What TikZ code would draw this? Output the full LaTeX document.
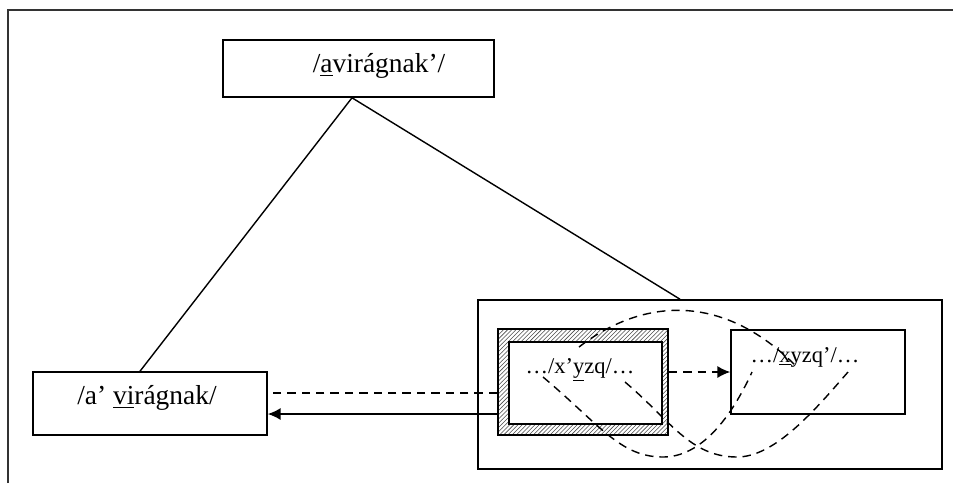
\documentclass[tikz,border=0pt]{standalone}
\usepackage{fontspec}
\setmainfont{Liberation Serif}
\usetikzlibrary{arrows.meta,patterns}

\begin{document}
\begin{tikzpicture}[x=0.025cm,y=-0.025cm]
		\tikzstyle{boite} = [draw,line width=1.1pt,inner sep=0pt]
		\tikzstyle{mot} = [inner sep=0pt,font=\fontsize{19.5}{22}\selectfont]
		\tikzstyle{petit} = [inner sep=0pt,font=\fontsize{16}{19}\selectfont]
		\tikzstyle{fleche} = [-{Latex[length=3.2mm,width=3mm]},line width=1pt]
		\tikzstyle{tiret} = [line width=1pt,dash pattern=on 2.1mm off 1.5mm]
		
		\useasboundingbox (0,0) rectangle (953,483);
		\draw[line width=1.1pt,black!80] (8,483) -- (8,10) -- (953,10);
		
		\node[boite,minimum width=6.775cm,minimum height=1.425cm](haut) at (358.5,68.5) {};
		\node[boite,minimum width=5.85cm,minimum height=1.575cm](gauche) at (150,403.5) {};
		\node[boite,minimum width=11.6cm,minimum height=4.225cm](cadre) at (710,384.5) {};
		\node[boite,pattern=north east lines,pattern color=black!70,minimum width=4.25cm,minimum height=2.65cm](hachure) at (583,382) {};
		\node[boite,fill=white,minimum width=3.825cm,minimum height=2.05cm](dedans) at (585.5,383) {};
		\node[boite,minimum width=4.35cm,minimum height=2.1cm](droite) at (818,372) {};
		
		\node[mot](tHaut) at (379,66) {/\underline{a}virágnak’/};
		\node[mot](tGauche) at (147,398) {/a’ \underline{vi}rágnak/};
		\node[petit](tDedans) at (580,370) {…/x’\underline{y}zq/…};
		\node[petit](tDroite) at (805,357) {…/\underline{x}yzq’/…};
		
		\draw[line width=1pt] (haut.south -| 352,0) -- (gauche.north -| 140,0);
		\draw[line width=1pt] (haut.south -| 352,0) -- (cadre.north -| 680,0);
		
		\draw[tiret] (hachure.west |- 0,393) -- (gauche.east |- 0,393);
		\draw[fleche] (hachure.west |- 0,414) -- (gauche.east |- 0,414);
		\draw[tiret,fleche] (hachure.east |- 0,372) -- (droite.west |- 0,372);
		
		\coordinate (x1) at (579,347);
		\coordinate (x2) at (796,366);
		\coordinate (g1) at (543,377);
		\coordinate (g2) at (752,372);
		\coordinate (d1) at (625,382);
		\coordinate (d2) at (848,372);
		
		\draw[tiret] (x1) .. controls (640,300) and (720,290) .. (x2);
		\draw[tiret] (g1) .. controls (600,425) and (620,457) .. (663,457) .. controls (700,457) and (730,420) .. (g2);
		\draw[tiret] (d1) .. controls (670,420) and (690,457) .. (737,457) .. controls (775,457) and (815,410) .. (d2);
		
		\end{tikzpicture}
\end{document}
